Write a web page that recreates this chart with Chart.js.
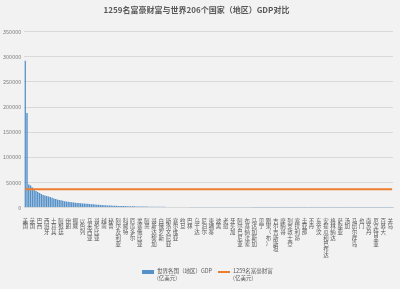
<!DOCTYPE html>
<html>
<head>
<meta charset="utf-8">
<script src="https://cdn.jsdelivr.net/npm/chart.js@4.4.0/dist/chart.umd.min.js"></script>
<style>
  html, body { margin: 0; padding: 0; background: #f2f2f2; }
  #wrap { position: relative; width: 400px; height: 289px; background: #f2f2f2; }
  #legend { position: absolute; top: 268px; left: 142px; display: flex; font-family: "Noto Sans CJK SC", sans-serif; font-size: 5.5px; color: #595959; line-height: 7px; }
  .item { display: flex; align-items: flex-start; margin-right: 6px; }
  .sw-bar { width: 12px; height: 4px; background: #5591c8; margin: 1.5px 3px 0 0; }
  .sw-line { width: 12px; height: 2px; background: #ed7d31; margin: 2.5px 3px 0 0; }
</style>
</head>
<body>
<div id="wrap">
  <canvas id="gdpChart" width="400" height="289"></canvas>
  <div id="legend">
    <div class="item"><div class="sw-bar"></div><div>世界各国（地区）GDP<br>(亿美元)</div></div>
    <div class="item"><div class="sw-line"></div><div>1259名富豪财富<br>(亿美元)</div></div>
  </div>
</div>
<script>
// 国家（地区）
const countries = ['美国','中国','日本','德国','英国','法国','印度','意大利','巴西','加拿大',
  '韩国','俄罗斯','西班牙','澳大利亚','墨西哥','印度尼西亚','土耳其','荷兰','瑞士','沙特阿拉伯',
  '阿根廷','瑞典','波兰','比利时','伊朗','泰国','尼日利亚','奥地利','挪威','阿联酋',
  '埃及','中国香港','以色列','丹麦','菲律宾','新加坡','马来西亚','南非','爱尔兰','巴基斯坦',
  '哥伦比亚','智利','芬兰','孟加拉国','越南','葡萄牙','希腊','捷克','秘鲁','罗马尼亚',
  '新西兰','伊拉克','阿尔及利亚','卡塔尔','哈萨克斯坦','匈牙利','科威特','安哥拉','摩洛哥','波多黎各',
  '厄瓜多尔','乌克兰','斯洛伐克','斯里兰卡','埃塞俄比亚','多米尼加','危地马拉','肯尼亚','阿曼','缅甸',
  '卢森堡','巴拿马','哥斯达黎加','保加利亚','乌拉圭','克罗地亚','白俄罗斯','坦桑尼亚','中国澳门','黎巴嫩',
  '斯洛文尼亚','立陶宛','乌兹别克斯坦','加纳','塞尔维亚','刚果（金）','阿塞拜疆','科特迪瓦','约旦','突尼斯',
  '玻利维亚','土库曼斯坦','巴林','喀麦隆','拉脱维亚','巴拉圭','乌干达','赞比亚','爱沙尼亚','萨尔瓦多',
  '尼泊尔','洪都拉斯','冰岛','塞浦路斯','柬埔寨','特立尼达和多巴哥','塞内加尔','津巴布韦','波黑','巴布亚新几内亚',
  '阿富汗','博茨瓦纳','老挝','马里','格鲁吉亚','加蓬','牙买加','巴勒斯坦','尼加拉瓜','毛里求斯',
  '阿尔巴尼亚','纳米比亚','马耳他','莫桑比克','布基纳法索','蒙古','马其顿','亚美尼亚','马达加斯加','巴哈马',
  '文莱','赤道几内亚','贝宁','乍得','卢旺达','海地','刚果（布）','摩尔多瓦','尼日尔','科索沃',
  '吉尔吉斯斯坦','塔吉克斯坦','马拉维','几内亚','摩纳哥','斐济','多哥','毛里塔尼亚','列支敦士登','黑山',
  '巴巴多斯','斯威士兰','塞拉利昂','苏里南','马尔代夫','安道尔','圭亚那','布隆迪','阿鲁巴','莱索托',
  '不丹','利比里亚','中非','佛得角','东帝汶','伯利兹','吉布提','圣卢西亚','安提瓜和巴布达','塞舌尔',
  '所罗门群岛','几内亚比绍','格林纳达','冈比亚','圣基茨和尼维斯','瓦努阿图','萨摩亚','圣文森特和格林纳丁斯','科摩罗','多米尼克',
  '汤加','圣多美和普林西比','密克罗尼西亚','帕劳','马绍尔群岛','基里巴斯','瑙鲁','图瓦卢','也门','叙利亚',
  '利比亚','苏丹','南苏丹','朝鲜','古巴','索马里','厄立特里亚','委内瑞拉','圣马力诺','格陵兰',
  '百慕大','开曼群岛','法属波利尼西亚','新喀里多尼亚','关岛','库拉索'];

// 各国（地区）GDP（亿美元）
const gdpValues = [292000, 188000, 46000, 44000, 40000, 36000, 33000, 31000, 29000, 27000,
  25000, 24000, 23000, 22000, 21000, 19500, 18000, 17000, 16000, 15000,
  14500, 13500, 12500, 12000, 11500, 11000, 10500, 10000, 9600, 9200,
  8900, 8600, 8300, 8000, 7700, 7400, 7000, 6700, 6400, 6100,
  5800, 5500, 5200, 4900, 4700, 4500, 4300, 4100, 3900, 3700,
  3500, 3400, 3300, 3200, 3100, 3000, 2900, 2800, 2700, 2600,
  2500, 2400, 2300, 2250, 2200, 2100, 2000, 1950, 1900, 1850,
  1800, 1750, 1700, 1650, 1600, 1550, 1500, 1450, 1400, 1350,
  1300, 1250, 1200, 1150, 1100, 1050, 1000, 980, 960, 940,
  920, 900, 880, 860, 840, 820, 800, 780, 760, 740,
  720, 700, 680, 660, 640, 620, 600, 590, 580, 570,
  560, 550, 540, 530, 520, 510, 500, 490, 480, 470,
  460, 450, 440, 430, 420, 410, 400, 390, 380, 370,
  360, 350, 340, 330, 320, 310, 300, 295, 290, 285,
  280, 275, 270, 265, 260, 255, 250, 245, 240, 235,
  230, 225, 220, 215, 210, 205, 200, 195, 190, 185,
  180, 175, 170, 165, 160, 155, 150, 145, 140, 135,
  130, 125, 120, 115, 110, 105, 100, 96, 92, 88,
  84, 80, 76, 72, 68, 64, 60, 56, 52, 48,
  44, 40, 37, 34, 31, 28, 25, 22, 19, 16,
  13, 10, 8, 6, 4, 2];

// 1259名富豪财富总额（亿美元）
const richWealth = 36500;

// y轴刻度
const yTicks = [0, 50000, 100000, 150000, 200000, 250000, 300000, 350000];

const font = '"Noto Sans CJK SC", sans-serif';

const ctx = document.getElementById('gdpChart').getContext('2d');
const gdpChart = new Chart(ctx, {
    data: {
        labels: countries,
        datasets: [
            {
                type: 'line',
                label: '1259名富豪财富 (亿美元)',
                data: countries.map(() => richWealth),
                borderColor: '#ed7d31',
                borderWidth: 2,
                pointRadius: 0,
                order: 0
            },
            {
                type: 'bar',
                label: '世界各国（地区）GDP (亿美元)',
                data: gdpValues,
                backgroundColor: '#5591c8',
                barPercentage: 0.8,
                categoryPercentage: 1.0,
                order: 1
            }
        ]
    },
    options: {
        responsive: false,
        animation: false,
        layout: { padding: { left: 0, right: 7, top: 0, bottom: 29 } },
        plugins: {
            legend: { display: false },
            tooltip: { enabled: false },
            title: {
                display: true,
                text: '1259名富豪财富与世界206个国家（地区）GDP对比',
                color: '#595959',
                font: { family: font, size: 8, weight: 'bold' },
                padding: { top: 5, bottom: 17 }
            }
        },
        scales: {
            x: {
                grid: { display: false },
                border: { color: '#d9d9d9' },
                ticks: {
                    autoSkip: false,
                    maxRotation: 0,
                    minRotation: 0,
                    padding: 2,
                    color: '#595959',
                    font: { family: font, size: 5.5, lineHeight: 1.05 },
                    callback: function(value, index) {
                        return index % 4 === 0 ? countries[index].split('') : '';
                    }
                }
            },
            y: {
                min: 0,
                max: 350000,
                afterBuildTicks: function(axis) {
                    axis.ticks = yTicks.map(v => ({ value: v }));
                },
                grid: { color: '#d9d9d9', drawTicks: false },
                border: { display: false },
                ticks: {
                    padding: 3,
                    color: '#7f7f7f',
                    font: { family: font, size: 5.5 },
                    callback: function(value) { return String(value); }
                }
            }
        }
    }
});
</script>
</body>
</html>
